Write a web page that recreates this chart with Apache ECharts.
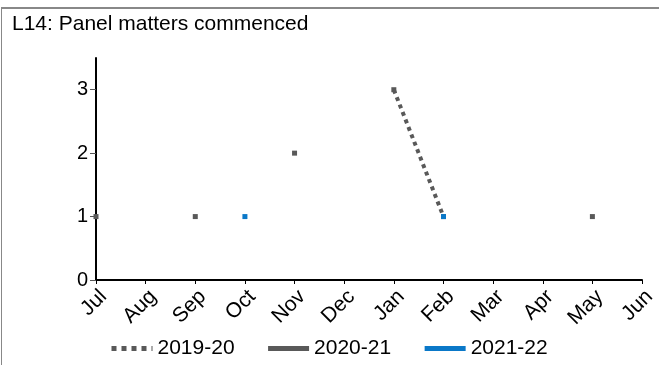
<!DOCTYPE html>
<html>
<head>
<meta charset="utf-8">
<script src="https://cdn.jsdelivr.net/npm/echarts@6/dist/echarts.min.js"></script>
<style>
html,body{margin:0;padding:0;background:#fff;}
#frame{position:absolute;left:1px;top:7px;width:700px;height:400px;border-left:1px solid #888;border-top:2px solid #888;}
#chart{position:absolute;left:0;top:0;width:659px;height:365px;}
</style>
</head>
<body>
<div id="frame"></div>
<div id="chart"></div>
<script>
var titleText = 'L14: Panel matters commenced';
var months = ['Jul','Aug','Sep','Oct','Nov','Dec','Jan','Feb','Mar','Apr','May','Jun'];
var seriesNames = ['2019-20','2020-21','2021-22'];
var s2019 = [null,null,null,null,null,null,3,1,null,null,null,null];
var s2020 = [1,null,1,null,2,null,null,null,null,null,1,null];
var s2021 = [null,null,null,1,null,null,null,1,null,null,null,null];
var yTicks = [0,1,2,3];

var gray = '#595959', blue = '#0A78C8';
var chart = echarts.init(document.getElementById('chart'));
function mk(name, data, color, type){
  return {
    name: name, type: 'line', data: data,
    symbol: 'rect', symbolSize: 5, showSymbol: true,
    connectNulls: false,
    lineStyle: {color: color, width: 4, type: type, cap: 'butt'},
    itemStyle: {color: color},
    emphasis: {disabled: true},
    animation: false
  };
}
chart.setOption({
  animation: false,
  title: {text: titleText, left: 7, top: 9,
    textStyle: {fontFamily: 'Liberation Sans, Arial', fontSize: 21, fontWeight: 'normal', color: '#000'}},
  grid: {left: 96, right: 14, top: 58, bottom: 85, containLabel: false},
  xAxis: {
    type: 'category', data: months, boundaryGap: false,
    axisLine: {lineStyle: {color: '#000', width: 2}},
    axisTick: {show: true, alignWithLabel: true, length: 4, lineStyle: {color: '#000'}},
    axisLabel: {rotate: 45, fontFamily: 'Liberation Sans, Arial', fontSize: 21, color: '#000', margin: 6, interval: 0, verticalAlign: 'top'},
    splitLine: {show: false}
  },
  yAxis: {
    type: 'value', min: 0, max: 3.5, interval: 1,
    axisLine: {show: true, lineStyle: {color: '#000', width: 2}},
    axisTick: {show: true, length: 6, lineStyle: {color: '#555'}, customValues: yTicks},
    axisLabel: {fontFamily: 'Liberation Sans, Arial', fontSize: 20, color: '#000', margin: 8, customValues: yTicks},
    splitLine: {show: false}
  },
  legend: {
    data: seriesNames, left: 104, top: 333, itemWidth: 41, itemHeight: 10, itemGap: 31,
    textStyle: {fontFamily: 'Liberation Sans, Arial', fontSize: 21, color: '#000'},
    itemStyle: {opacity: 0},
    lineStyle: {width: 5},
    selectedMode: false
  },
  series: [
    mk(seriesNames[0], s2019, gray, 'dotted'),
    mk(seriesNames[1], s2020, gray, 'solid'),
    mk(seriesNames[2], s2021, blue, 'solid')
  ]
});
</script>
</body>
</html>
